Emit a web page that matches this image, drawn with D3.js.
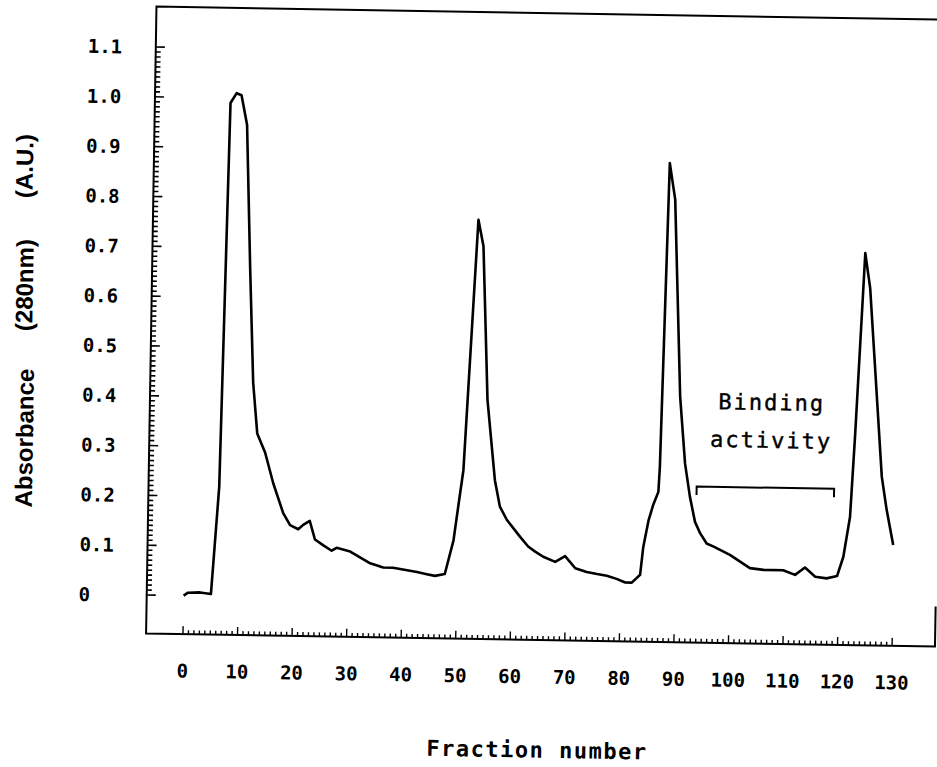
<!DOCTYPE html>
<html>
<head>
<meta charset="utf-8">
<script src="https://cdn.jsdelivr.net/npm/d3@7"></script>
<style>
  html, body { margin: 0; padding: 0; background: #fff; }
  svg { display: block; }
</style>
</head>
<body>
<svg id="chart" width="937" height="767"></svg>
<script>
// elution profile (fraction number vs A280)
const fraction = [
  0, 0.8, 3, 5, 6.2, 7.1, 8.2, 9.1, 10.2, 11.2, 12.1, 13, 14.5, 16.1, 18, 19.3,
  20.8, 21.7, 22.9, 23.9, 25.4, 27, 27.9, 30.4, 34.1, 36.5, 38.3, 42.7, 44.5, 46,
  47.8, 49.3, 50.2, 50.9, 52.9, 53.9, 55.1, 56.7, 57.7, 59, 61.5, 63, 64.3, 65.8,
  68, 69.8, 71.7, 73.8, 75.7, 77.5, 79.3, 80.9, 82.1, 83.6, 84.1, 85, 85.8, 86.7,
  86.9, 87.8, 88.9, 90.4, 91.5, 92.5, 93.5, 94.5, 95.7, 97, 100, 103.7, 106.2,
  109.8, 112, 113.8, 115.7, 117.8, 119.7, 120.8, 121.9, 122.6, 123.9, 124.9,
  126.5, 127.6, 128.6, 129.9
];
const absorbance = [
  0, 0.006, 0.007, 0.004, 0.22, 0.99, 1.01, 1.006, 0.947, 0.66, 0.43, 0.328, 0.29, 0.228, 0.169, 0.145,
  0.137, 0.146, 0.154, 0.117, 0.106, 0.095, 0.101, 0.094, 0.071, 0.063, 0.063, 0.055, 0.051, 0.048,
  0.052, 0.12, 0.2, 0.261, 0.764, 0.711, 0.403, 0.242, 0.189, 0.163, 0.129, 0.11, 0.1, 0.09,
  0.08, 0.092, 0.068, 0.061, 0.057, 0.054, 0.048, 0.041, 0.041, 0.057, 0.113, 0.167, 0.198, 0.224,
  0.275, 0.884, 0.811, 0.416, 0.282, 0.215, 0.165, 0.142, 0.122, 0.116, 0.1, 0.074, 0.071,
  0.071, 0.062, 0.077, 0.059, 0.056, 0.061, 0.1, 0.18, 0.348, 0.71, 0.64,
  0.416, 0.262, 0.195, 0.125
];

const yTicks = [0, 0.1, 0.2, 0.3, 0.4, 0.5, 0.6, 0.7, 0.8, 0.9, 1.0, 1.1];
const yTickLabels = ['0', '0.1', '0.2', '0.3', '0.4', '0.5', '0.6', '0.7', '0.8', '0.9', '1.0', '1.1'];
const xTicks = [0, 10, 20, 30, 40, 50, 60, 70, 80, 90, 100, 110, 120, 130];

const bindingRange = [93.7, 118.9];
const bindingLevel = 0.236;
const bindingLabel = ['Binding', 'activity'];
const bindingLabelAt = [107.2, 0.392, 0.316]; // x, baseline of each line

// the scan sits a little crooked, so the whole figure is turned by this much
const TILT = 0.95;

const svg = d3.select('#chart');
svg.append('rect').attr('width', 937).attr('height', 767).attr('fill', '#fff');

const g = svg.append('g').attr('transform', `rotate(${TILT},540,340)`);

const x = d3.scaleLinear().domain([0, 130]).range([187.9, 897.1]);
const y = d3.scaleLinear().domain([0, 1.1]).range([601.5, 53.4]);

const frame = { left: 151, top: 13, right: 940, bottom: 640 };

// frame (open box)
g.append('path')
  .attr('d', `M${frame.right},${frame.top}H${frame.left}V${frame.bottom}H${frame.right}V${frame.bottom - 40}`)
  .attr('fill', 'none')
  .attr('stroke', '#000')
  .attr('stroke-width', 2);

// rulers: y minor every 0.01, x minor every fraction, majors at the labelled ticks
const yMinor = d3.range(0, 111);
const xMinor = d3.range(0, 131);

const yRulerPath = d3.path();
yMinor.forEach((i) => {
  const yy = y(i / 100);
  yRulerPath.moveTo(frame.left, yy);
  yRulerPath.lineTo(frame.left + (i % 10 === 0 ? 9 : 5), yy);
});
g.append('path')
  .attr('d', yRulerPath.toString())
  .attr('fill', 'none')
  .attr('stroke', '#000')
  .attr('stroke-width', 1.6);

const xRulerPath = d3.path();
xMinor.forEach((d) => {
  xRulerPath.moveTo(x(d), frame.bottom);
  xRulerPath.lineTo(x(d), frame.bottom - (d % 10 === 0 ? 8 : 4));
});
g.append('path')
  .attr('d', xRulerPath.toString())
  .attr('fill', 'none')
  .attr('stroke', '#000')
  .attr('stroke-width', 1.4);

const tickFont = '"DejaVu Sans Mono", monospace';

g.append('g').selectAll('text')
  .data(yTicks)
  .join('text')
  .attr('x', 83)
  .attr('y', (d) => y(d) + 7)
  .attr('font-family', tickFont)
  .attr('font-weight', 'bold')
  .attr('font-size', 19)
  .attr('fill', '#000')
  .text((d, i) => yTickLabels[i]);

g.append('g').selectAll('text')
  .data(xTicks)
  .join('text')
  .attr('x', (d) => x(d))
  .attr('y', 683.5)
  .attr('text-anchor', 'middle')
  .attr('font-family', tickFont)
  .attr('font-weight', 'bold')
  .attr('font-size', 19)
  .attr('fill', '#000')
  .text((d) => d);

// the trace
const line = d3.line().x((d) => x(d[0])).y((d) => y(d[1]));
g.append('path')
  .datum(fraction.map((f, i) => [f, absorbance[i]]))
  .attr('d', line)
  .attr('fill', 'none')
  .attr('stroke', '#000')
  .attr('stroke-width', 2.6)
  .attr('stroke-linejoin', 'round');

// binding activity bracket
const drop = 0.017;
g.append('path')
  .attr('d', `M${x(bindingRange[0])},${y(bindingLevel - drop)}V${y(bindingLevel)}H${x(bindingRange[1])}V${y(bindingLevel - drop)}`)
  .attr('fill', 'none')
  .attr('stroke', '#000')
  .attr('stroke-width', 2);

g.append('g').selectAll('text')
  .data(bindingLabel)
  .join('text')
  .attr('x', x(bindingLabelAt[0]))
  .attr('y', (d, i) => y(bindingLabelAt[i + 1]))
  .attr('text-anchor', 'middle')
  .attr('font-family', tickFont)
  .attr('font-size', 22)
  .attr('letter-spacing', 2)
  .attr('fill', '#000')
  .attr('stroke', '#000')
  .attr('stroke-width', 0.4)
  .text((d) => d);

// axis titles
g.append('text')
  .attr('x', 543.8)
  .attr('y', 757.6)
  .attr('text-anchor', 'middle')
  .attr('font-family', tickFont)
  .attr('font-weight', 'bold')
  .attr('font-size', 22)
  .attr('letter-spacing', 1.5)
  .attr('fill', '#000')
  .text('Fraction number');

const yTitle = [
  { t: 'Absorbance', x: 34.6, y: 446.6 },
  { t: '(280nm)', x: 32.1, y: 293.6 },
  { t: '(A.U.)', x: 30.1, y: 174.6 },
];
g.append('g').selectAll('text')
  .data(yTitle)
  .join('text')
  .attr('transform', (d) => `translate(${d.x},${d.y}) rotate(-90)`)
  .attr('text-anchor', 'middle')
  .attr('font-family', '"Liberation Sans", Arial, sans-serif')
  .attr('font-weight', 'bold')
  .attr('font-size', 24)
  .attr('fill', '#000')
  .text((d) => d.t);
</script>
</body>
</html>
